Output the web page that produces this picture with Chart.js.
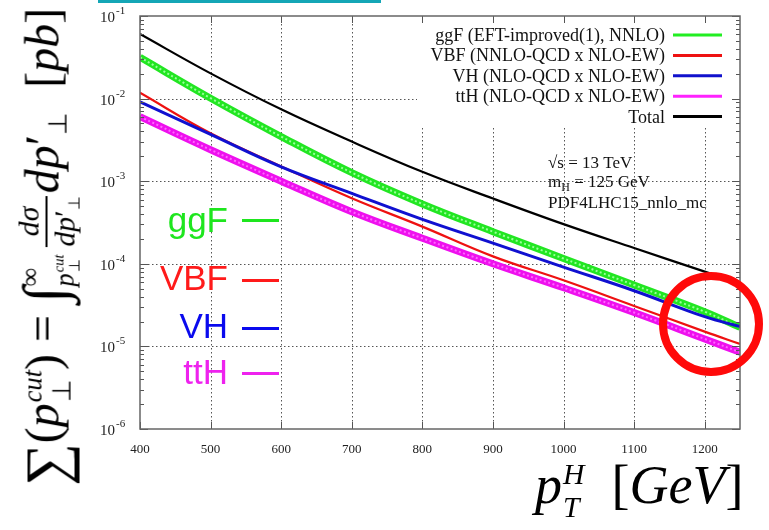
<!DOCTYPE html>
<html>
<head>
<meta charset="utf-8">
<script src="https://cdn.jsdelivr.net/npm/chart.js@4/dist/chart.umd.min.js"></script>
<style>
  body { margin: 0; background: #fff; }
  #wrap { position: relative; width: 769px; height: 530px; overflow: hidden; background: #fff; }
  #chart { position: absolute; left: 0; top: 0; }
  #topbar { position: absolute; left: 98px; top: 0; width: 283px; height: 3px; background: #14a6b6; }
  .tag { position: absolute; font-family: "Liberation Sans", Arial, sans-serif; font-size: 35px; line-height: 35px; text-align: right; width: 120px; }
  .dash { position: absolute; left: 242px; width: 37px; height: 3px; }
  #ring { position: absolute; left: 659px; top: 272px; width: 104px; height: 104px; box-sizing: border-box; border: 8px solid #ff0a0a; border-radius: 50%; }

  #ytitle { position: absolute; left: 48px; top: 247px; transform: translate(-50%, -50%) rotate(-90deg);
    white-space: nowrap; font-family: "Liberation Serif", serif; font-size: 48px; line-height: 1; color: #000; }
  #xtitle { position: absolute; left: 535px; top: 458px; white-space: nowrap;
    font-family: "Liberation Serif", serif; font-size: 54px; line-height: 1; color: #000; }
  .sig { font-size: 1.25em; vertical-align: -0.12em; }
  .ss { display: inline-flex; flex-direction: column; font-size: 0.55em; vertical-align: middle; line-height: 1.1; text-align: left; margin-left: 1px; }
  .int { font-size: 1.25em; vertical-align: -0.1em; }
  .lim { display: inline-flex; flex-direction: column; font-size: 0.55em; vertical-align: middle; line-height: 1.3; text-align: left; }
  .frac { display: inline-flex; flex-direction: column; font-size: 0.62em; vertical-align: middle; text-align: center; margin: 0 3px 0 8px; line-height: 1.15; }
  .frac > span:first-child { border-bottom: 2px solid #000; padding: 0 2px; }
  .sb { font-size: 0.55em; vertical-align: -0.3em; }
</style>
</head>
<body>
<div id="wrap">
  <canvas id="chart" width="769" height="530"></canvas>
  <div id="topbar"></div>

  <div class="tag" style="left:108px; top:202px; color:#1ee61e;">ggF</div>
  <div class="dash" style="top:219px; background:#1ee61e;"></div>
  <div class="tag" style="left:108px; top:260px; color:#ff1a1a;">VBF</div>
  <div class="dash" style="top:279px; background:#ff1a1a;"></div>
  <div class="tag" style="left:108px; top:308px; color:#0a0aee;">VH</div>
  <div class="dash" style="top:327px; background:#0a0aee;"></div>
  <div class="tag" style="left:108px; top:354px; color:#ee22ee;">ttH</div>
  <div class="dash" style="top:372px; background:#ee22ee;"></div>

  <div id="ring"></div>

  <div id="ytitle"><span class="sig">∑</span>(<i>p</i><span class="ss"><i>cut</i><span>⊥</span></span>) =
    <span class="int">∫</span><span class="lim"><span>∞</span><span><i>p</i><span class="ss"><i>cut</i><span>⊥</span></span></span></span><span class="frac"><span><i>dσ</i></span><span><i>dp</i>′<span class="sb">⊥</span></span></span><i>dp</i>′<span class="sb">⊥</span>&nbsp;&nbsp;[<i>pb</i>]</div>

  <div id="xtitle"><i>p</i><span class="ss"><i>H</i><i>T</i></span>&nbsp;&nbsp;[<i>GeV</i>]</div>
</div>

<script>
// p_T cut values (GeV) and integrated cross sections (pb)
const PT = [400, 500, 600, 700, 800, 900, 1000, 1100, 1200, 1250];
const GGF = [0.0316, 0.0101, 0.00347, 0.00127, 5.31e-4, 2.45e-4, 1.16e-4, 5.53e-5, 2.63e-5, 1.70e-5];
const VBF = [0.01175, 0.0038, 0.00151, 6.21e-4, 2.82e-4, 1.23e-4, 6.31e-5, 3.09e-5, 1.51e-5, 1.07e-5];
const VH = [0.00912, 0.00368, 0.00149, 7.13e-4, 3.45e-4, 1.78e-4, 9.12e-5, 4.72e-5, 2.29e-5, 1.74e-5];
const TTH = [0.00603, 0.0024, 0.001, 4.27e-4, 2.04e-4, 1.0e-4, 5.13e-5, 2.57e-5, 1.23e-5, 8.5e-6];
const TOTAL = [0.0605, 0.0202, 0.00741, 0.00302, 0.0013, 6.17e-4, 3.02e-4, 1.55e-4, 8.04e-5, 5.75e-5];

const X_TICKS = [400, 500, 600, 700, 800, 900, 1000, 1100, 1200];
const Y_EXPONENTS = [-6, -5, -4, -3, -2, -1];

const LEGEND_LABELS = [
  "ggF (EFT-improved(1), NNLO)",
  "VBF (NNLO-QCD x NLO-EW)",
  "VH (NLO-QCD x NLO-EW)",
  "ttH (NLO-QCD x NLO-EW)",
  "Total",
];
const LEGEND_COLORS = ["#22ee22", "#ee1111", "#1111cc", "#ff22ff", "#000000"];

const SERIF = '"Liberation Serif", "Times New Roman", serif';

function pts(ys) {
  return PT.map((x, i) => ({ x: x, y: ys[i] }));
}

function line(data, color, width, order, dash) {
  return {
    data: pts(data),
    borderColor: color,
    borderWidth: width,
    borderDash: dash || [],
    pointRadius: 0,
    fill: false,
    tension: 0.4,
    order: order,
  };
}

// frame, dotted grid, inward ticks, y labels, legend and note
const decor = {
  id: "decor",
  beforeDatasetsDraw(chart) {
    const { ctx, chartArea: a, scales } = chart;
    const xs = scales.x, ys = scales.y;
    ctx.save();
    ctx.strokeStyle = "#555";
    ctx.lineWidth = 1;
    ctx.setLineDash([1.5, 2.5]);
    X_TICKS.slice(1).forEach((v) => {
      const px = Math.round(xs.getPixelForValue(v)) + 0.5;
      ctx.beginPath();
      ctx.moveTo(px, a.top);
      ctx.lineTo(px, a.bottom);
      ctx.stroke();
    });
    Y_EXPONENTS.slice(1, -1).forEach((e) => {
      const py = Math.round(ys.getPixelForValue(Math.pow(10, e))) + 0.5;
      ctx.beginPath();
      ctx.moveTo(a.left, py);
      ctx.lineTo(a.right, py);
      ctx.stroke();
    });
    ctx.setLineDash([]);

    // legend background hides grid behind it
    ctx.fillStyle = "#fff";
    ctx.fillRect(417, a.top + 1, a.right - 418, 110);
    ctx.restore();
  },
  afterDatasetsDraw(chart) {
    const { ctx, chartArea: a, scales } = chart;
    const xs = scales.x, ys = scales.y;
    ctx.save();

    // ticks
    ctx.strokeStyle = "#555";
    ctx.lineWidth = 1;
    X_TICKS.forEach((v) => {
      const px = Math.round(xs.getPixelForValue(v)) + 0.5;
      ctx.beginPath();
      ctx.moveTo(px, a.bottom);
      ctx.lineTo(px, a.bottom - 7);
      ctx.moveTo(px, a.top);
      ctx.lineTo(px, a.top + 7);
      ctx.stroke();
    });
    for (let e = -6; e <= -1; e++) {
      for (let m = 1; m < 10; m++) {
        const v = m * Math.pow(10, e);
        if (v > 0.1 + 1e-12) break;
        const py = Math.round(ys.getPixelForValue(v)) + 0.5;
        const len = m === 1 ? 8 : 4;
        ctx.beginPath();
        ctx.moveTo(a.left, py);
        ctx.lineTo(a.left + len, py);
        ctx.moveTo(a.right, py);
        ctx.lineTo(a.right - len, py);
        ctx.stroke();
      }
    }

    // frame
    ctx.lineWidth = 1.5;
    ctx.strokeStyle = "#666";
    ctx.strokeRect(a.left, a.top, a.right - a.left, a.bottom - a.top);

    // y tick labels 10^n
    ctx.fillStyle = "#222";
    ctx.textAlign = "left";
    ctx.textBaseline = "alphabetic";
    Y_EXPONENTS.forEach((e) => {
      const py = ys.getPixelForValue(Math.pow(10, e));
      ctx.font = "15px " + SERIF;
      ctx.fillText("10", 100, py + 6);
      const w = ctx.measureText("10").width;
      ctx.font = "11px " + SERIF;
      ctx.fillText(String(e), 100 + w + 1, py - 2);
    });

    // legend
    ctx.font = "18px " + SERIF;
    ctx.textAlign = "right";
    ctx.fillStyle = "#111";
    LEGEND_LABELS.forEach((lab, i) => {
      const cy = 35 + i * 20.4;
      ctx.fillText(lab, 665, cy + 6);
      ctx.strokeStyle = LEGEND_COLORS[i];
      ctx.lineWidth = 3;
      ctx.beginPath();
      ctx.moveTo(673, cy);
      ctx.lineTo(722, cy);
      ctx.stroke();
    });

    // run info
    ctx.textAlign = "left";
    ctx.font = "17px " + SERIF;
    ctx.fillText("√s = 13 TeV", 548, 168);
    ctx.fillText("m", 548, 187);
    let w = ctx.measureText("m").width;
    ctx.font = "12px " + SERIF;
    ctx.fillText("H", 548 + w, 191);
    w += ctx.measureText("H").width;
    ctx.font = "17px " + SERIF;
    ctx.fillText(" = 125 GeV", 548 + w, 187);
    ctx.fillText("PDF4LHC15_nnlo_mc", 548, 208);
    ctx.restore();
  },
};

const ctx = document.getElementById("chart").getContext("2d");
new Chart(ctx, {
  type: "line",
  data: {
    datasets: [
      line(TOTAL, "#000000", 2.2, 0),
      line(VH, "#1010d0", 3, 1),
      line(VBF, "#ee1111", 2.2, 2),
      line(TTH, "#ff66ff", 2, 3, [2, 2.5]),
      line(TTH, "#ee10ee", 7, 4),
      line(GGF, "#99ff99", 2, 5, [2, 2.5]),
      line(GGF, "#22e622", 7, 6),
    ],
  },
  options: {
    responsive: false,
    animation: false,
    events: [],
    layout: { padding: { top: 16, right: 29, bottom: 0, left: 0 } },
    plugins: { legend: { display: false }, tooltip: { enabled: false } },
    scales: {
      x: {
        type: "linear",
        min: 400,
        max: 1250,
        grid: { display: false, drawTicks: false },
        border: { display: false },
        ticks: {
          padding: 13,
          color: "#222",
          font: { family: SERIF, size: 13 },
          callback: (v) => String(v),
        },
        afterBuildTicks: (s) => {
          s.ticks = X_TICKS.map((v) => ({ value: v }));
        },
        afterFit: (s) => {
          s.height = 101;
        },
      },
      y: {
        type: "logarithmic",
        min: 1e-6,
        max: 1e-1,
        grid: { display: false, drawTicks: false },
        border: { display: false },
        ticks: { display: false },
        afterFit: (s) => {
          s.width = 140;
        },
      },
    },
  },
  plugins: [decor],
});
</script>
</body>
</html>
